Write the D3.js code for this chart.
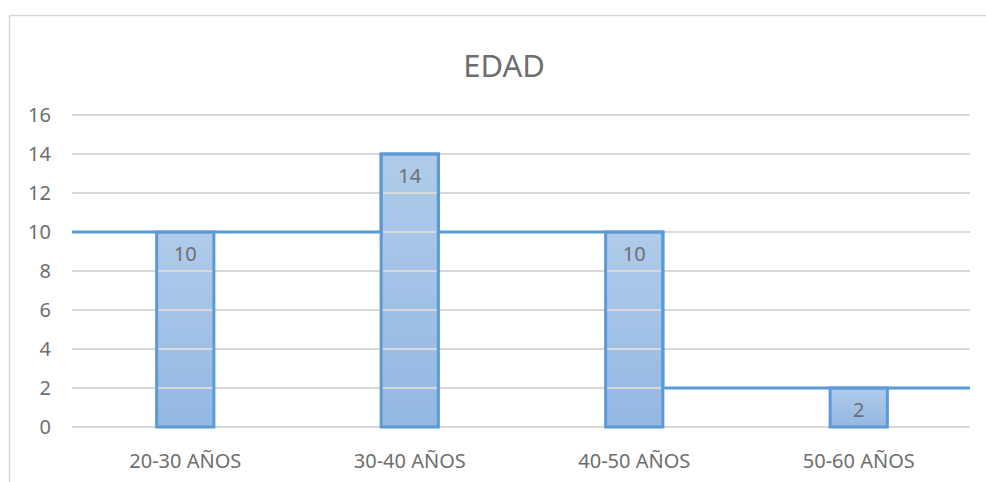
<!DOCTYPE html>
<html>
<head>
<meta charset="utf-8">
<script src="https://cdn.jsdelivr.net/npm/d3@7"></script>
<style>
  body { margin: 0; background: #fff; }
  text { font-family: "Noto Sans", sans-serif; fill: #6e6e6e; }
</style>
</head>
<body>
<div class="bar-chart"></div>
<script>
const categories = ["20-30 AÑOS", "30-40 AÑOS", "40-50 AÑOS", "50-60 AÑOS"];
const values = [10, 14, 10, 2];
const yTicks = [0, 2, 4, 6, 8, 10, 12, 14, 16];
const title = "EDAD";

const W = 986, H = 482;
const plotLeft = 72, plotRight = 970, plotTop = 115, plotBottom = 427;

const svg = d3.select(".bar-chart")
  .append("svg")
  .attr("width", W)
  .attr("height", H);

// chart area border (right/bottom are off the picture)
svg.append("rect")
  .attr("x", 9.5).attr("y", 15.5)
  .attr("width", W + 20).attr("height", H + 20)
  .attr("fill", "none")
  .attr("stroke", "#d9d9d9")
  .attr("stroke-width", 1.5);

const grad = svg.append("defs").append("linearGradient")
  .attr("id", "barGrad")
  .attr("x1", 0).attr("y1", 0).attr("x2", 0).attr("y2", 1);
grad.append("stop").attr("offset", "0%").attr("stop-color", "#b0cbea");
grad.append("stop").attr("offset", "100%").attr("stop-color", "#93b8e3");

const x = d3.scaleBand()
  .domain(categories)
  .range([plotLeft, plotRight])
  .paddingInner(0.745)
  .paddingOuter(0.3725);

const y = d3.scaleLinear()
  .domain([0, 16])
  .range([plotBottom, plotTop]);

const bw = x.bandwidth();

// bar fills (under the gridlines)
svg.selectAll(".bar-fill")
  .data(values)
  .enter()
  .append("rect")
  .attr("class", "bar-fill")
  .attr("x", (d, i) => x(categories[i]) + 1)
  .attr("y", d => y(d))
  .attr("width", bw)
  .attr("height", d => y(0) - y(d))
  .attr("fill", "url(#barGrad)");

// gridlines
svg.append("g")
  .selectAll("line")
  .data(yTicks)
  .enter()
  .append("line")
  .attr("x1", plotLeft).attr("x2", plotRight)
  .attr("y1", d => y(d)).attr("y2", d => y(d))
  .attr("stroke", "#d9d9d9")
  .attr("stroke-width", 2);

// y axis labels
svg.append("g")
  .attr("transform", `translate(${plotLeft},0)`)
  .call(d3.axisLeft(y).tickValues(yTicks).tickSize(0).tickPadding(21))
  .call(g => g.select(".domain").remove())
  .selectAll("text")
  .attr("font-size", 20)
  .attr("font-family", "Noto Sans")
  .style("fill", "#6e6e6e");

// bar outlines
svg.selectAll(".bar-line")
  .data(values)
  .enter()
  .append("rect")
  .attr("class", "bar-line")
  .attr("x", (d, i) => x(categories[i]) + 1)
  .attr("y", d => y(d))
  .attr("width", bw)
  .attr("height", d => y(0) - y(d))
  .attr("fill", "none")
  .attr("stroke", "#5b9bd5")
  .attr("stroke-width", 3);

// stepped outline joining the bars
const pts = [[plotLeft, y(values[0])]];
values.forEach((v, i) => {
  const x0 = x(categories[i]) + 1, x1 = x0 + bw;
  const lv = i === 0 ? v : Math.min(values[i - 1], v);
  const rv = i === values.length - 1 ? v : Math.min(values[i + 1], v);
  pts.push([x0, y(lv)], [x0, y(v)], [x1, y(v)], [x1, y(rv)]);
});
pts.push([plotRight, y(values[values.length - 1])]);

svg.append("path")
  .attr("d", d3.line()(pts))
  .attr("fill", "none")
  .attr("stroke", "#5b9bd5")
  .attr("stroke-width", 3);

// data labels
svg.selectAll(".dlabel")
  .data(values)
  .enter()
  .append("text")
  .attr("x", (d, i) => x(categories[i]) + 1 + bw / 2)
  .attr("y", d => y(d) + 29)
  .attr("text-anchor", "middle")
  .attr("font-size", 20)
  .text(d => d);

// x axis labels
svg.append("g")
  .attr("transform", `translate(1,${plotBottom})`)
  .call(d3.axisBottom(x).tickSize(0).tickPadding(27))
  .call(g => g.select(".domain").remove())
  .selectAll("text")
  .attr("font-size", 20)
  .attr("font-family", "Noto Sans")
  .style("fill", "#6e6e6e");

svg.append("text")
  .attr("x", 504)
  .attr("y", 77)
  .attr("text-anchor", "middle")
  .attr("font-size", 31)
  .text(title);
</script>
</body>
</html>
